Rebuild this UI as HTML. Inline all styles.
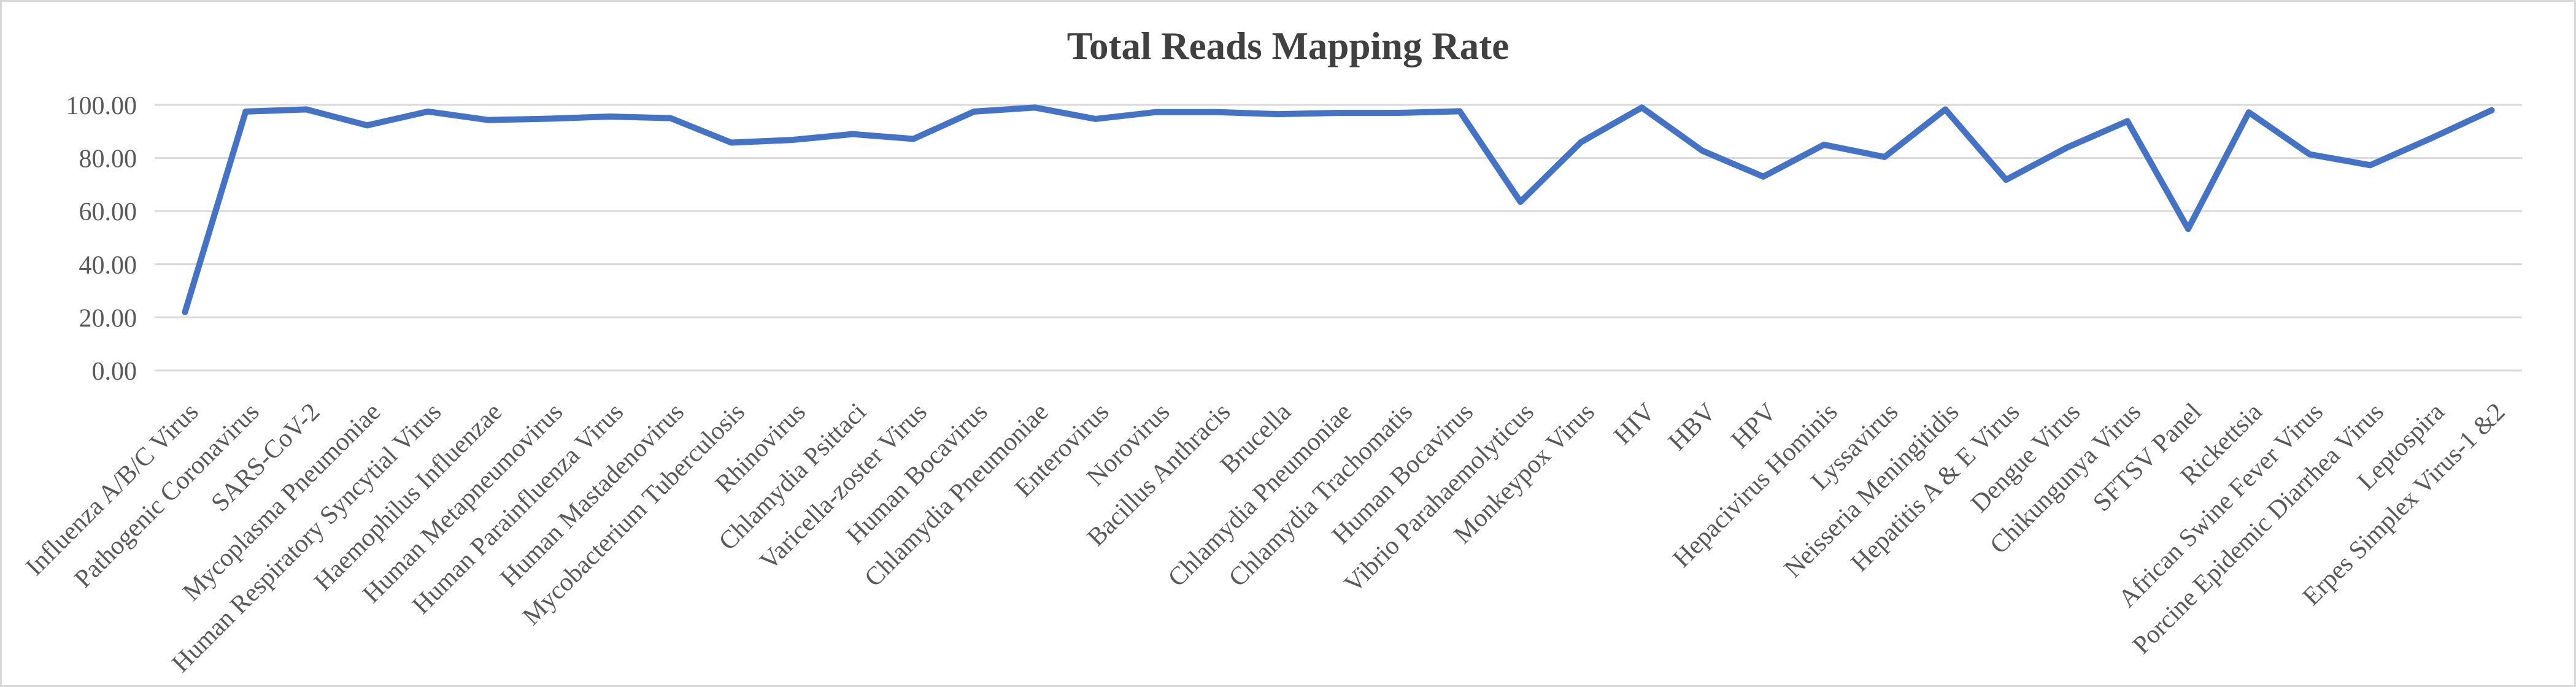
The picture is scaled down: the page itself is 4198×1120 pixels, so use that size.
<!DOCTYPE html>
<html><head><meta charset="utf-8"><style>
html,body{margin:0;padding:0;background:#fff;}
svg{display:block;font-family:"Liberation Serif",serif;}
</style></head><body>
<svg id="chart" width="4198" height="1120" viewBox="0 0 4198 1120">
<rect x="1.5" y="1.5" width="4195" height="1117" fill="#fff" stroke="#d9d9d9" stroke-width="3"/>
<text x="2099" y="96" text-anchor="middle" font-size="63" font-weight="bold" fill="#404040">Total Reads Mapping Rate</text>
<g id="grid"></g><g id="yticks"></g><g id="xlabels"></g><g id="series"></g>
</svg>
<script>
const categories = ["Influenza A/B/C Virus","Pathogenic Coronavirus","SARS-CoV-2","Mycoplasma Pneumoniae","Human Respiratory Syncytial Virus","Haemophilus Influenzae","Human Metapneumovirus","Human Parainfluenza Virus","Human Mastadenovirus","Mycobacterium Tuberculosis","Rhinovirus","Chlamydia Psittaci","Varicella-zoster Virus","Human Bocavirus","Chlamydia Pneumoniae","Enterovirus","Norovirus","Bacillus Anthracis","Brucella","Chlamydia Pneumoniae","Chlamydia Trachomatis","Human Bocavirus","Vibrio Parahaemolyticus","Monkeypox Virus","HIV","HBV","HPV","Hepacivirus Hominis","Lyssavirus","Neisseria Meningitidis","Hepatitis A & E Virus","Dengue Virus","Chikungunya Virus","SFTSV Panel","Rickettsia","African Swine Fever Virus","Porcine Epidemic Diarrhea Virus","Leptospira","Erpes Simplex Virus-1 &2"];
const values = [22,97.5,98.3,92.3,97.5,94.3,94.8,95.6,95,85.8,86.8,89,87.2,97.5,99,94.7,97.3,97.3,96.5,97,97,97.6,63.5,86,99,82.7,73,85,80.4,98.3,71.8,83.9,93.9,53.3,97.2,81.4,77.3,87.4,98];
const yTicks = [0,20,40,60,80,100];
const yTickLabels = ["0.00","20.00","40.00","60.00","80.00","100.00"];

const NS="http://www.w3.org/2000/svg";
const L=252,R=4110,T=171,B=604,yMax=100;
const band=(R-L)/categories.length;
const xs=i=>L+band*(i+0.5);
const ys=v=>B-(v/yMax)*(B-T);
function mk(tag,parent){const e=document.createElementNS(NS,tag);document.getElementById(parent).appendChild(e);return e;}

yTicks.forEach((t,i)=>{
  const g=mk('line','grid');
  g.setAttribute('x1',L);g.setAttribute('x2',R);g.setAttribute('y1',ys(t));g.setAttribute('y2',ys(t));
  g.setAttribute('stroke','#d9d9d9');g.setAttribute('stroke-width','3');
  
  
  const tx=mk('text','yticks');
  tx.setAttribute('x',223);tx.setAttribute('y',ys(t)+15);tx.setAttribute('text-anchor','end');
  tx.setAttribute('font-size','42');tx.setAttribute('fill','#595959');
  tx.textContent=yTickLabels[i];
  
  
});

categories.forEach((c,i)=>{
  const tx=mk('text','xlabels');
  const x=xs(i)+24,y=674;
  tx.setAttribute('transform','translate('+x+','+y+') rotate(-45)');
  tx.setAttribute('text-anchor','end');tx.setAttribute('font-size','42');tx.setAttribute('fill','#595959');
  tx.textContent=c;
  
  
});

const pl=mk('polyline','series');
pl.setAttribute('points',values.map((v,i)=>xs(i)+','+ys(v)).join(' '));
pl.setAttribute('fill','none');pl.setAttribute('stroke','#4472C4');pl.setAttribute('stroke-width','10');
pl.setAttribute('stroke-linejoin','round');pl.setAttribute('stroke-linecap','round');


</script>
</body></html>
